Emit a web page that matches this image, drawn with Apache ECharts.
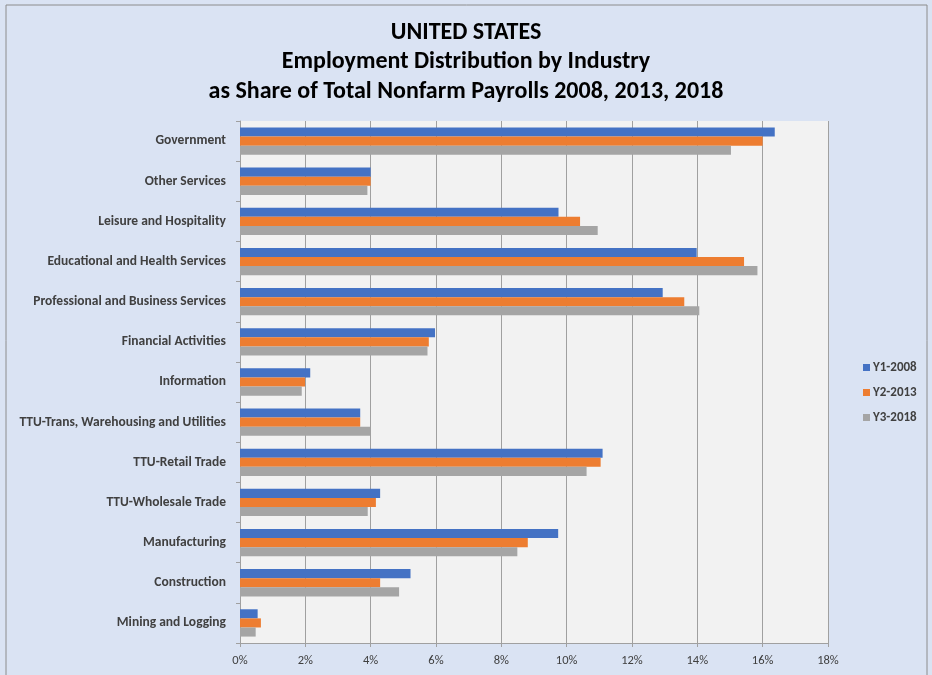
<!DOCTYPE html>
<html>
<head>
<meta charset="utf-8">
<script src="https://cdn.jsdelivr.net/npm/echarts@6/dist/echarts.min.js"></script>
<style>
  html, body { margin: 0; padding: 0; background: #ffffff; }
  #chart { width: 932px; height: 675px; }
</style>
</head>
<body>
<div id="chart"></div>
<script>
// Industries, bottom to top as drawn on the category axis
const industries = [
  'Mining and Logging',
  'Construction',
  'Manufacturing',
  'TTU-Wholesale Trade',
  'TTU-Retail Trade',
  'TTU-Trans, Warehousing and Utilities',
  'Information',
  'Financial Activities',
  'Professional and Business Services',
  'Educational and Health Services',
  'Leisure and Hospitality',
  'Other Services',
  'Government'
];

// Share of total nonfarm payrolls, percent
const y2008 = [0.54, 5.22, 9.74, 4.29, 11.10, 3.68, 2.15, 5.97, 12.94, 13.98, 9.75, 4.00, 16.37];
const y2013 = [0.64, 4.29, 8.81, 4.16, 11.04, 3.68, 1.99, 5.78, 13.60, 15.43, 10.41, 4.00, 16.00];
const y2018 = [0.48, 4.87, 8.49, 3.91, 10.61, 3.98, 1.89, 5.74, 14.06, 15.84, 10.95, 3.90, 15.03];

const seriesNames = ['Y1-2008', 'Y2-2013', 'Y3-2018'];
const seriesColors = ['#4472c4', '#ed7d31', '#a5a5a5'];

const titleLines = [
  'UNITED STATES',
  'Employment Distribution by Industry',
  'as Share of Total Nonfarm Payrolls 2008, 2013, 2018'
];

const font = 'Calibri, Carlito, Lato, sans-serif';

const chart = echarts.init(document.getElementById('chart'), null, { renderer: 'canvas' });

const values = [y2008, y2013, y2018];

chart.setOption({
  backgroundColor: '#dae3f3',
  animation: false,
  graphic: [
    {
      type: 'rect',
      shape: { x: 6, y: 5, width: 921, height: 680 },
      style: { fill: 'none', stroke: '#8c8c8c', lineWidth: 1 },
      silent: true
    }
  ],
  title: {
    text: titleLines.join('\n'),
    left: 'center',
    top: 13,
    textStyle: {
      fontFamily: font,
      fontSize: 24,
      fontWeight: 'bold',
      color: '#000000',
      lineHeight: 29.5
    }
  },
  legend: {
    orient: 'vertical',
    left: 858,
    top: 356,
    itemWidth: 7,
    itemHeight: 7,
    itemGap: 12,
    icon: 'rect',
    data: seriesNames,
    textStyle: { fontFamily: font, fontSize: 13, fontWeight: 'bold', color: '#404040', padding: [0, 0, 0, -2] }
  },
  grid: {
    left: 240,
    top: 121,
    width: 588,
    height: 522,
    show: true,
    backgroundColor: '#f2f2f2',
    borderWidth: 0
  },
  xAxis: {
    type: 'value',
    min: 0,
    max: 18,
    interval: 2,
    axisLine: { show: true, lineStyle: { color: '#a0a0a0' } },
    axisTick: { show: true, length: 4, lineStyle: { color: '#a0a0a0' } },
    splitLine: { show: true, lineStyle: { color: '#a0a0a0', width: 1 } },
    axisLabel: {
      formatter: v => v + '%',
      fontFamily: font,
      fontSize: 12.5,
      color: '#404040',
      margin: 11
    }
  },
  yAxis: {
    type: 'category',
    data: industries,
    axisLine: { show: true, lineStyle: { color: '#a0a0a0' } },
    axisTick: { show: true, length: 4, lineStyle: { color: '#a0a0a0' } },
    axisLabel: {
      fontFamily: font,
      fontSize: 13.5,
      fontWeight: 'bold',
      color: '#404040',
      margin: 14
    }
  },
  series: seriesNames.map((name, i) => ({
    name: name,
    type: 'bar',
    data: values[i],
    itemStyle: { color: seriesColors[i] },
    barCategoryGap: '32%',
    barGap: '0%'
  }))
});
</script>
</body>
</html>
